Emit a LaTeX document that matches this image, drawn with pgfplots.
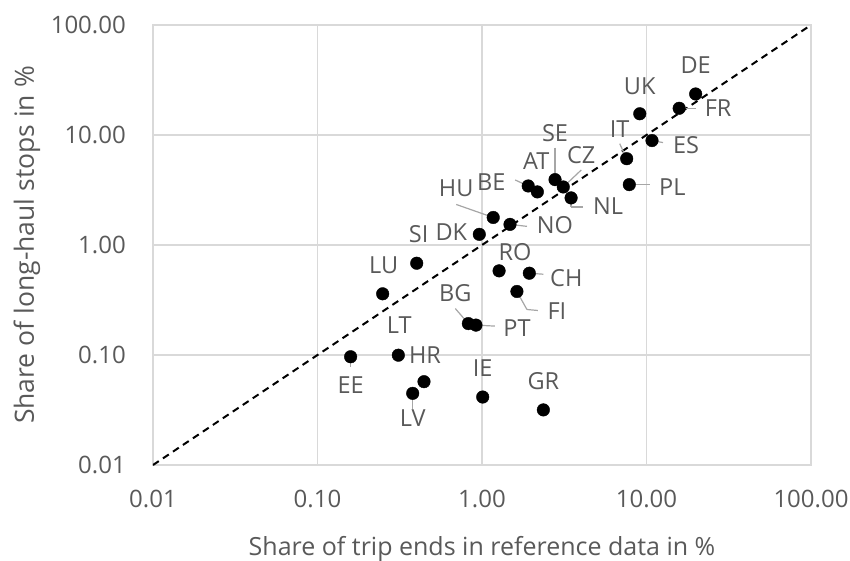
\documentclass[border=0pt]{standalone}
\usepackage{pgfplots}
\pgfplotsset{compat=1.18}
\usepackage{fontspec}
\setmainfont{Open Sans}
\definecolor{txt}{HTML}{595959}
\definecolor{gridc}{HTML}{D9D9D9}
\definecolor{ldc}{HTML}{A6A6A6}
\tikzset{
  lbl/.style={font=\fontsize{23.5}{27}\selectfont, text=txt, inner sep=0pt, anchor=center},
  ldr/.style={draw=ldc, line width=1.2pt},
}
\pgfplotstableread{
x y
19.9 23.6
15.8 17.5
9.1 15.6
10.8 8.9
7.58 6.09
7.86 3.54
2.78 3.93
3.12 3.37
3.48 2.68
1.91 3.44
2.17 3.04
1.17 1.78
1.48 1.54
0.963 1.25
0.401 0.683
0.249 0.360
1.27 0.582
1.94 0.554
1.63 0.378
0.826 0.193
0.919 0.187
0.310 0.0996
0.159 0.0964
0.444 0.0572
0.379 0.0448
1.01 0.0415
2.36 0.0317
}\pts
\newcommand{\lab}[5]{\node[lbl,xshift=#3pt,yshift=#4pt] at (axis cs:#1,#2) {#5};}
\newcommand{\seg}[6]{\draw[ldr] ([xshift=#3pt,yshift=#4pt]axis cs:#1,#2) -- ([xshift=#5pt,yshift=#6pt]axis cs:#1,#2);}
\begin{document}
\begin{tikzpicture}
\useasboundingbox (-153pt,-96pt) rectangle (697pt,465pt);
\begin{axis}[
  scale only axis, width=658pt, height=440pt,
  xmode=log, ymode=log,
  xmin=0.01, xmax=100, ymin=0.01, ymax=100,
  xtick={0.01,0.1,1,10,100}, xticklabels={0.01,0.10,1.00,10.00,100.00},
  ytick={0.01,0.1,1,10,100}, yticklabels={0.01,0.10,1.00,10.00,100.00},
  xminorticks=false, yminorticks=false,
  grid=major, major grid style={draw=gridc, line width=1.3pt},
  axis line style={draw=gridc, line width=1.3pt},
  tick style={draw=none},
  tick label style={font=\fontsize{24}{28}\selectfont, text=txt, inner sep=0pt},
  x tick label style={anchor=base, yshift=-42pt},
  y tick label style={anchor=east, xshift=-27pt},
  xlabel={Share of trip ends in reference data in \%},
  ylabel={Share of long-haul stops in \%},
  label style={text=txt, inner sep=0pt},
  xlabel style={font=\fontsize{25}{29}\selectfont, at={(axis description cs:0.5,-0.191)}, anchor=center},
  ylabel style={font=\fontsize{26.5}{30}\selectfont, at={(axis description cs:-0.1915,0.5)}, anchor=center},
]
\addplot[black, line width=2pt, dash pattern=on 7pt off 5pt] coordinates {(0.01,0.01) (100,100)};
% leader lines
\seg{15.8}{17.5}{0}{0}{17}{0}
\seg{10.8}{8.9}{0}{0}{11}{-2}
\seg{7.58}{6.09}{-7}{15}{0}{0}
\seg{7.86}{3.54}{0}{0}{21}{0}
\seg{2.78}{3.93}{0}{32}{0}{0}
\seg{3.12}{3.37}{18}{17}{0}{0}
\seg{1.91}{3.44}{-13}{6}{0}{0}
\seg{3.48}{2.68}{0}{0}{0}{-9}
\seg{3.48}{2.68}{0}{-9}{12}{-9}
\seg{1.17}{1.78}{-37}{13}{0}{0}
\seg{1.48}{1.54}{0}{0}{17}{-2}
\seg{1.94}{0.554}{0}{0}{14}{-1}
\seg{1.63}{0.378}{0}{0}{10}{-18}
\seg{1.63}{0.378}{10}{-18}{21}{-19}
\seg{0.826}{0.193}{-13}{15}{0}{0}
\seg{0.919}{0.187}{0}{0}{19}{-1}
\seg{0.159}{0.0964}{0}{0}{0}{-10}
\seg{0.379}{0.0448}{0}{0}{0}{-16}
\addplot[only marks, mark=*, mark size=6.3pt, black] table[x=x,y=y] {\pts};
% labels
\lab{19.9}{23.6}{0}{29}{DE}
\lab{15.8}{17.5}{39}{0}{FR}
\lab{9.1}{15.6}{0}{28}{UK}
\lab{10.8}{8.9}{34}{-5}{ES}
\lab{7.58}{6.09}{-7}{30}{IT}
\lab{7.86}{3.54}{43}{-2}{PL}
\lab{2.78}{3.93}{0}{47}{SE}
\lab{3.12}{3.37}{18}{32}{CZ}
\lab{3.48}{2.68}{37}{-8}{NL}
\lab{1.91}{3.44}{-37}{4}{BE}
\lab{2.17}{3.04}{-1}{31}{AT}
\lab{1.17}{1.78}{-37}{29}{HU}
\lab{1.48}{1.54}{45}{-1}{NO}
\lab{0.963}{1.25}{-28}{2}{DK}
\lab{0.401}{0.683}{2}{29}{SI}
\lab{0.249}{0.360}{1}{29}{LU}
\lab{1.27}{0.582}{16}{19}{RO}
\lab{1.94}{0.554}{37}{-5}{CH}
\lab{1.63}{0.378}{40}{-20}{FI}
\lab{0.826}{0.193}{-13}{30}{BG}
\lab{0.919}{0.187}{41}{-3}{PT}
\lab{0.310}{0.0996}{1}{30}{LT}
\lab{0.159}{0.0964}{0}{-28}{EE}
\lab{0.444}{0.0572}{1}{27}{HR}
\lab{0.379}{0.0448}{0}{-25}{LV}
\lab{1.01}{0.0415}{0}{29}{IE}
\lab{2.36}{0.0317}{0}{29}{GR}
\end{axis}
\end{tikzpicture}
\end{document}
